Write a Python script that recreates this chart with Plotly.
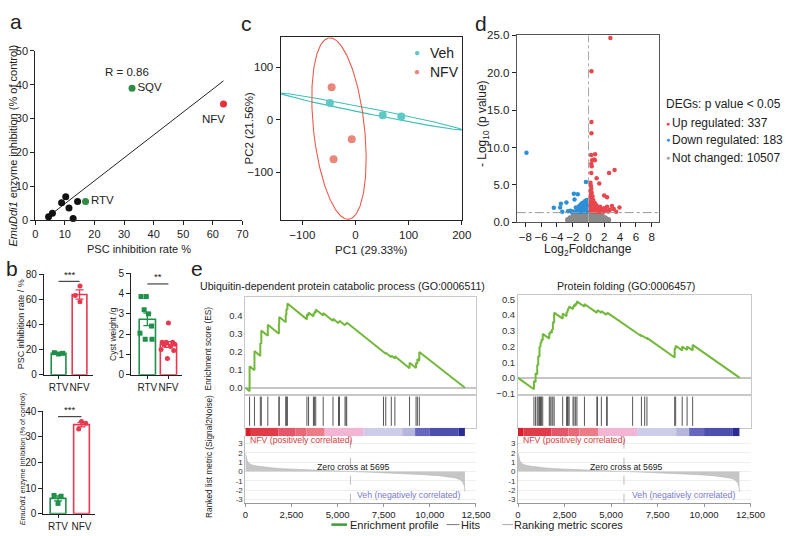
import numpy as np
import plotly.graph_objects as go

W, H = 791, 536
FONT = "Liberation Sans, Arial, Helvetica, sans-serif"
INK = "#222222"

def fx(px):
    return px / W

def fy(py):
    return 1 - py / H

# ======================= DATA =======================
# (a) PSC inhibition vs EmuDdi1 inhibition
a_black_x = [4.5, 5.8, 8.9, 10.3, 11.4, 12.8, 14.3]
a_black_y = [1.0, 2.0, 5.1, 6.9, 3.6, 0.5, 5.5]
a_green_names = ["RTV", "SQV"]
a_green_x = [17.0, 32.7]
a_green_y = [5.5, 39.0]
a_red_names = ["NFV"]
a_red_x = [63.6]
a_red_y = [34.3]

# (b) bar panels
groups = ["RTV", "NFV"]
b1_rtv = [17.6, 16.6, 17.1]
b1_rtv_dx = [-0.2, 0.0, 0.2]
b1_nfv = [70.5, 63.0, 58.0]
b1_nfv_dx = [0.02, -0.2, 0.02]
b2_rtv = [3.85, 3.85, 3.2, 3.0, 2.4, 2.05, 1.75, 1.75]
b2_rtv_dx = [-0.3, -0.05, -0.15, 0.05, 0.2, -0.35, -0.1, 0.22]
b2_nfv = [2.55, 1.6, 1.6, 1.6, 1.5, 1.45, 1.4, 1.25, 1.2, 0.8]
b2_nfv_dx = [0.0, -0.3, -0.1, 0.2, 0.3, -0.2, 0.1, -0.35, 0.25, -0.05]
b3_rtv = [7.1, 6.8, 4.0]
b3_rtv_dx = [-0.17, 0.13, 0.0]
b3_nfv = [35.9, 35.2, 33.0]
b3_nfv_dx = [0.0, 0.18, -0.12]
b_sig = ["***", "**", "***"]
b_sig_y = [74.3, 4.47, 37.8]

# (c) PCA
veh_pc1 = [-48.0, 51.3, 86.2]
veh_pc2 = [32.0, 8.7, 6.1]
nfv_pc1 = [-44.9, -7.0, -41.2]
nfv_pc2 = [61.7, -37.0, -75.0]

# (d) volcano
up_x = [2.77, 0.37, 0.37, 0.37, 0.33, 0.83, 0.45, 0.70, 0.80, 0.35, 0.40, 0.35, 1.03, 1.36, 3.30, 2.60, 1.98, 2.35,
        0.25, 0.30, 0.35, 0.25, 0.40, 0.30, 0.50, 0.25, 0.45, 0.60, 0.30, 0.55, 0.80, 0.25, 0.45, 0.70, 1.00, 0.30,
        0.60, 0.90, 1.20, 0.25, 0.50, 0.80, 1.10, 1.40, 0.30, 0.60, 0.95, 1.30, 1.70, 0.40, 0.75, 1.10, 1.50, 1.90,
        1.46, 2.00, 2.35, 2.97, 3.92, 3.50, 2.70, 2.20, 1.80, 3.20, 2.50]
up_y = [24.65, 20.2, 13.4, 11.9, 9.0, 9.1, 8.3, 8.4, 8.3, 7.8, 7.5, 6.6, 5.9, 5.2, 7.0, 6.6, 3.6, 3.35,
        5.3, 4.9, 4.5, 4.2, 4.0, 3.7, 3.5, 3.3, 3.1, 3.0, 2.8, 2.7, 2.6, 2.5, 2.4, 2.3, 2.3, 2.1,
        2.05, 2.0, 2.0, 1.85, 1.8, 1.75, 1.7, 1.75, 1.6, 1.55, 1.5, 1.5, 1.55, 1.4, 1.4, 1.38, 1.38, 1.4,
        2.1, 1.9, 2.1, 2.2, 2.0, 1.4, 1.7, 1.6, 1.8, 1.8, 1.45]
down_x = [-7.87, -1.86, -1.36, -0.33, -1.77, -2.80, -3.50, -4.40, -3.60, -3.33, -1.60, -2.30, -2.60, -2.00,
          -0.20, -0.35, -0.25, -0.50, -0.80, -0.30, -0.60, -1.00, -0.20, -0.45, -0.75, -1.20, -0.30, -0.60,
          -0.95, -1.30, -0.20, -0.45, -0.80, -1.15, -1.50, -0.30, -0.60, -0.95, -1.30, -1.75, -2.10]
down_y = [9.3, 3.83, 3.74, 5.4, 3.06, 2.65, 2.5, 1.96, 2.0, 1.4, 2.0, 1.55, 1.5, 1.45,
          3.0, 2.9, 2.7, 2.8, 2.6, 2.5, 2.45, 2.4, 2.3, 2.25, 2.2, 2.15, 2.05, 1.95,
          1.9, 1.8, 1.75, 1.7, 1.6, 1.55, 1.5, 1.45, 1.4, 1.38, 1.36, 1.4, 1.35]
nc_x = [-2.5, -2.1, -1.7, -1.3, -0.9, -0.5, -0.1, 0.3, 0.7, 1.1, 1.5, 1.9, 2.3,
        -2.6, -2.2, -1.8, -1.4, -1.0, -0.6, -0.2, 0.2, 0.6, 1.0, 1.4, 1.8, 2.2, 2.5,
        -2.3, -1.9, -1.5, -1.1, -0.7, -0.3, 0.1, 0.5, 0.9, 1.3, 1.7, 2.1,
        -1.9, -1.5, -1.1, -0.7, -0.3, 0.1, 0.5, 0.9, 1.3, 1.7,
        -1.4, -1.0, -0.6, -0.2, 0.2, 0.6, 1.0, 1.4,
        -0.9, -0.5, -0.1, 0.3, 0.7, 1.0]
nc_y = [0.05, 0.05, 0.05, 0.05, 0.05, 0.05, 0.05, 0.05, 0.05, 0.05, 0.05, 0.05, 0.05,
        0.3, 0.3, 0.3, 0.3, 0.3, 0.3, 0.3, 0.3, 0.3, 0.3, 0.3, 0.3, 0.3, 0.3,
        0.55, 0.55, 0.55, 0.55, 0.55, 0.55, 0.55, 0.55, 0.55, 0.55, 0.55, 0.55,
        0.8, 0.8, 0.8, 0.8, 0.8, 0.8, 0.8, 0.8, 0.8, 0.8,
        1.05, 1.05, 1.05, 1.05, 1.05, 1.05, 1.05, 1.05,
        1.25, 1.25, 1.25, 1.25, 1.25, 1.25]
deg_labels = ["Up regulated", "Down regulated", "Not changed"]
deg_counts = [337, 183, 10507]
p_cut = 0.05

# (e) GSEA
esL_rank = [0, 229, 229, 494, 494, 811, 811, 864, 864, 1218, 1218, 1818, 1818, 1836, 1836, 2189, 2189, 2225, 2225,
            2278, 2278, 3337, 3337, 3426, 3426, 3690, 3690, 3743, 3743, 3814, 3814, 4220, 4220, 4750, 4750, 5050,
            5050, 5103, 5103, 5403, 5403, 5456, 5456, 5492, 5492, 7486, 7486, 7610, 7610, 7910, 7910, 8104, 8104,
            8899, 8899, 9252, 9252, 9322, 9322, 9428, 9428, 11900]
esL_val = [0.0, -0.019, 0.12, 0.098, 0.205, 0.178, 0.25, 0.246, 0.32, 0.29, 0.352, 0.302, 0.36, 0.358, 0.395,
           0.366, 0.41, 0.407, 0.44, 0.436, 0.471, 0.382, 0.41, 0.403, 0.42, 0.398, 0.415, 0.41, 0.425, 0.419,
           0.437, 0.403, 0.418, 0.373, 0.385, 0.36, 0.37, 0.366, 0.374, 0.349, 0.356, 0.352, 0.36, 0.357, 0.364,
           0.196, 0.2, 0.19, 0.196, 0.171, 0.18, 0.164, 0.176, 0.109, 0.14, 0.11, 0.14, 0.134, 0.16, 0.151, 0.2,
           0.0]
hitsL = [229, 494, 811, 864, 1218, 1818, 1836, 2189, 2225, 2278, 3337, 3426, 3690, 3743, 3814, 4220, 4750, 5050,
         5103, 5403, 5456, 5492, 7486, 7610, 7910, 8104, 8899, 9252, 9322, 9428]

esR_rank = [0, 856, 856, 945, 945, 1034, 1034, 1087, 1087, 1155, 1155, 1208, 1208, 1260, 1260, 1329, 1329, 1680,
            1680, 1733, 1733, 1822, 1822, 1875, 1875, 1943, 1943, 2400, 2400, 2610, 2610, 2662, 2662, 2694, 2694,
            2747, 2747, 2957, 2957, 3009, 3009, 3098, 3098, 3167, 3167, 3571, 3571, 4238, 4238, 4270, 4270, 4480,
            4480, 4763, 4763, 4795, 4795, 6160, 6160, 6633, 6633, 6808, 6808, 6929, 6929, 8420, 8420, 8472, 8472,
            8824, 8824, 9087, 9087, 9386, 9386, 11922]
esR_val = [0.0, -0.072, -0.02, -0.027, 0.03, 0.023, 0.085, 0.08, 0.14, 0.134, 0.2, 0.196, 0.225, 0.22, 0.245,
           0.239, 0.28, 0.25, 0.285, 0.28, 0.295, 0.288, 0.31, 0.305, 0.355, 0.35, 0.415, 0.377, 0.41, 0.392, 0.42,
           0.416, 0.43, 0.427, 0.445, 0.44, 0.455, 0.437, 0.455, 0.45, 0.465, 0.458, 0.475, 0.469, 0.487, 0.453,
           0.47, 0.414, 0.425, 0.422, 0.432, 0.414, 0.425, 0.401, 0.41, 0.407, 0.415, 0.3, 0.305, 0.265, 0.27,
           0.255, 0.26, 0.25, 0.255, 0.13, 0.19, 0.186, 0.205, 0.175, 0.2, 0.178, 0.2, 0.175, 0.21, 0.0]
hitsR = [856, 945, 1034, 1087, 1155, 1208, 1260, 1329, 1680, 1733, 1822, 1875, 1943, 2400, 2610, 2662, 2694, 2747,
         2957, 3009, 3098, 3167, 3571, 4238, 4270, 4480, 4763, 4795, 6160, 6633, 6808, 6929, 8420, 8472, 8824, 9087,
         9386]

metric_rank = [0, 40, 100, 200, 400, 700, 1000, 1500, 2000, 3000, 4000, 5000, 5695, 6500, 7500, 8500, 9500,
               10500, 11000, 11400, 11650, 11800, 11870, 11900]
metric_val = [2.0, 1.55, 1.15, 0.85, 0.68, 0.56, 0.48, 0.38, 0.3, 0.2, 0.12, 0.05, 0.0, -0.06, -0.13, -0.22,
              -0.32, -0.45, -0.55, -0.7, -0.9, -1.2, -1.6, -2.2]
zero_cross = 5695
bar_edges = [0, 300, 1800, 2700, 3300, 4300, 6400, 8500, 9200, 10000, 11550, 11900]
bar_colors = ["#D6202C", "#E03C48", "#E4566A", "#E86A78", "#EC7C88", "#F2B6D4", "#CDCDEA", "#B6B6DC",
              "#6666BC", "#4E4EAC", "#2B2B92"]
gsea_titles = ["Ubiquitin-dependent protein catabolic process (GO:0006511)", "Protein folding (GO:0006457)"]

# ======================= FIGURE =======================
fig = go.Figure()
layout = {}
annotations = []
shapes = []

BASE_AX = dict(showgrid=False, zeroline=False, showline=False, ticks="", showticklabels=False,
               fixedrange=True)
STD = dict(showline=True, linecolor=INK, linewidth=1, ticks="outside", ticklen=4, tickcolor=INK,
           showticklabels=True, tickangle=0, tickfont=dict(size=11, color=INK, family=FONT))


def add_axes(n, xpx, ypx, xr, yr, xkw=None, ykw=None):
    xs = "xaxis" if n == 1 else f"xaxis{n}"
    ys = "yaxis" if n == 1 else f"yaxis{n}"
    xd = dict(BASE_AX, domain=[fx(xpx[0]), fx(xpx[1])], range=xr, anchor="y" if n == 1 else f"y{n}")
    yd = dict(BASE_AX, domain=[fy(ypx[1]), fy(ypx[0])], range=yr, anchor="x" if n == 1 else f"x{n}")
    if xkw:
        xd.update(xkw)
    if ykw:
        yd.update(ykw)
    layout[xs] = xd
    layout[ys] = yd
    return ("x" if n == 1 else f"x{n}"), ("y" if n == 1 else f"y{n}")


def ann(text, px, py, size=12, color=INK, xa="center", ya="middle", angle=0):
    annotations.append(dict(text=text, x=fx(px), y=fy(py), xref="paper", yref="paper", showarrow=False,
                            xanchor=xa, yanchor=ya, textangle=angle, borderpad=0,
                            font=dict(size=size, color=color, family=FONT)))


# ---------- panel a ----------
xa_, ya_ = add_axes(1, (33, 245), (46, 219), [0, 70], [0, 50],
                    dict(STD, tickvals=list(range(0, 71, 10))),
                    dict(STD, tickvals=list(range(0, 51, 10))))
all_x = np.array(a_black_x + a_green_x + a_red_x)
all_y = np.array(a_black_y + a_green_y + a_red_y)
slope, intercept = np.polyfit(all_x, all_y, 1)
r_val = np.corrcoef(all_x, all_y)[0, 1]
line_x = np.array([all_x.min(), all_x.max()])
fig.add_trace(go.Scatter(x=line_x, y=slope * line_x + intercept, mode="lines",
                         line=dict(color=INK, width=1), xaxis=xa_, yaxis=ya_, hoverinfo="skip"))
fig.add_trace(go.Scatter(x=a_black_x, y=a_black_y, mode="markers", marker=dict(color="#111111", size=7),
                         xaxis=xa_, yaxis=ya_, cliponaxis=False))
fig.add_trace(go.Scatter(x=a_green_x, y=a_green_y, mode="markers+text", text=a_green_names,
                         textposition="middle right", textfont=dict(size=11.5, color=INK, family=FONT),
                         marker=dict(color="#2E8B45", size=7), xaxis=xa_, yaxis=ya_, cliponaxis=False))
fig.add_trace(go.Scatter(x=a_red_x, y=a_red_y, mode="markers", marker=dict(color="#E8303A", size=7),
                         xaxis=xa_, yaxis=ya_, cliponaxis=False))
for nm, x, y in zip(a_red_names, a_red_x, a_red_y):
    annotations.append(dict(text=nm, x=x, y=y, xref=xa_, yref=ya_, showarrow=False, xshift=-10, yshift=-15,
                            font=dict(size=11.5, color=INK, family=FONT)))
ann(f"R = {r_val:.2f}", 127, 67, 11.5)
ann("<i>EmuDdi1</i> enzyme inhibition (% of control)", 10, 143, 11, angle=-90)
ann("PSC inhibition rate %", 139, 249, 11)

# ---------- panel b ----------
GREEN_B = "#1F8F4A"
RED_B = "#E8384F"


def bar_panel(n, xpx, ypx, xr, yr, ytick, rtv, rtv_dx, nfv, nfv_dx, width, sig, sig_y, ytitle, ytx, yty, ysize):
    xs, ys = add_axes(n, xpx, ypx, xr, yr,
                      dict(STD, tickvals=[0, 1], ticktext=groups, ticklen=3,
                           tickfont=dict(size=10, color=INK, family=FONT)),
                      dict(STD, tickvals=ytick, tickfont=dict(size=10, color=INK, family=FONT)))
    for i, (vals, dx, col, sym) in enumerate([(rtv, rtv_dx, GREEN_B, "square"), (nfv, nfv_dx, RED_B, "circle")]):
        v = np.array(vals)
        mean = v.mean()
        sem = v.std(ddof=1) / np.sqrt(len(v))
        fig.add_trace(go.Bar(x=[i], y=[mean], width=width, marker=dict(color="white", line=dict(color=col, width=1.6)),
                             error_y=dict(type="data", array=[sem], color=col, thickness=1.3, width=4),
                             xaxis=xs, yaxis=ys))
        fig.add_trace(go.Scatter(x=[i + d for d in dx], y=vals, mode="markers",
                                 marker=dict(color=col, size=5, symbol=sym), xaxis=xs, yaxis=ys, cliponaxis=False))
    fig.add_trace(go.Scatter(x=[0, 1], y=[sig_y, sig_y], mode="lines", line=dict(color=INK, width=1),
                             xaxis=xs, yaxis=ys, cliponaxis=False))
    annotations.append(dict(text=sig, x=0.5, y=sig_y, xref=xs, yref=ys, showarrow=False, yshift=7,
                            font=dict(size=9.5, color=INK, family=FONT)))
    ann(ytitle, ytx, yty, ysize, angle=-90)


bar_panel(2, (41.7, 91.7), (274.3, 377.3), [-0.707, 1.623], [0, 80], [0, 20, 40, 60, 80],
          b1_rtv, b1_rtv_dx, b1_nfv, b1_nfv_dx, 0.7, b_sig[0], b_sig_y[0], "PSC inhibition rate / %", 18, 326, 9)
bar_panel(3, (131, 182.7), (273.3, 377.3), [-0.773, 1.62], [0, 5], [0, 1, 2, 3, 4, 5],
          b2_rtv, b2_rtv_dx, b2_nfv, b2_nfv_dx, 0.77, b_sig[1], b_sig_y[1], "Cyst weight /g", 112, 335, 8.5)
bar_panel(4, (41.3, 94), (414.3, 519.3), [-0.625, 1.57], [0, 40], [0, 10, 20, 30, 40],
          b3_rtv, b3_rtv_dx, b3_nfv, b3_nfv_dx, 0.67, b_sig[2], b_sig_y[2],
          "<i>EmuDdi1</i> enzyme Inhibition (% of control)", 20, 464, 7.2)

# ---------- panel c ----------
TEAL = "#5DC9C4"
SALMON = "#E8877A"


def conf_ellipse(x, y, level=0.95, n=300):
    pts = np.vstack([x, y])
    mean = pts.mean(axis=1)
    cov = np.cov(pts)
    vals, vecs = np.linalg.eigh(cov)
    r = np.sqrt(-2 * np.log(1 - level))
    t = np.linspace(0, 2 * np.pi, n)
    circ = np.vstack([np.cos(t), np.sin(t)])
    ell = vecs @ (np.sqrt(np.maximum(vals, 0))[:, None] * r * circ) + mean[:, None]
    return ell[0], ell[1]


C_AX = dict(STD, mirror=True, tickfont=dict(size=11.5, color=INK, family=FONT))
xc, yc = add_axes(5, (284, 470), (32, 219), [-141, 201], [-191, 157],
                  dict(C_AX, tickvals=[-100, 0, 100, 200]), dict(C_AX, tickvals=[-100, 0, 100]))
ex, ey = conf_ellipse(veh_pc1, veh_pc2)
fig.add_trace(go.Scatter(x=ex, y=ey, mode="lines", line=dict(color="#3FBFBA", width=1.1), xaxis=xc, yaxis=yc))
ex, ey = conf_ellipse(nfv_pc1, nfv_pc2)
fig.add_trace(go.Scatter(x=ex, y=ey, mode="lines", line=dict(color="#EC5A4C", width=1.1), xaxis=xc, yaxis=yc))
fig.add_trace(go.Scatter(x=veh_pc1, y=veh_pc2, mode="markers", marker=dict(color=TEAL, size=8), xaxis=xc, yaxis=yc))
fig.add_trace(go.Scatter(x=nfv_pc1, y=nfv_pc2, mode="markers", marker=dict(color=SALMON, size=8), xaxis=xc, yaxis=yc))
ann("●", 424, 48, 10, TEAL)
ann("Veh", 436, 48, 14, xa="left")
ann("●", 424, 67, 10, SALMON)
ann("NFV", 436, 67, 14, xa="left")
ann("PC2 (21.56%)", 252, 125, 11.5, angle=-90)
ann("PC1 (29.33%)", 377, 250, 11.5)

# ---------- panel d ----------
D_AX = dict(STD, mirror=True, linecolor="#555555", tickfont=dict(size=11.5, color=INK, family=FONT))
xd_, yd_ = add_axes(6, (525.7, 671), (30, 221.3), [-9.1, 8.9], [0, 25],
                    dict(D_AX, tickvals=[-8, -6, -4, -2, 0, 2, 4, 6, 8]),
                    dict(D_AX, tickvals=[0, 5, 10, 15, 20, 25], tickformat=".1f"))
fig.add_trace(go.Scatter(x=nc_x, y=nc_y, mode="markers", marker=dict(color="#8A8A8A", size=6),
                         xaxis=xd_, yaxis=yd_, cliponaxis=True))
fig.add_trace(go.Scatter(x=down_x, y=down_y, mode="markers", marker=dict(color="#2E8FD6", size=4.5),
                         xaxis=xd_, yaxis=yd_))
fig.add_trace(go.Scatter(x=up_x, y=up_y, mode="markers", marker=dict(color="#E8474C", size=4.5),
                         xaxis=xd_, yaxis=yd_))
p_line = -np.log10(p_cut)
shapes.append(dict(type="line", xref=xd_, yref=yd_, x0=-9.1, x1=8.9, y0=p_line, y1=p_line,
                   line=dict(color="#999999", width=1, dash="dashdot")))
shapes.append(dict(type="line", xref=xd_, yref=yd_, x0=0, x1=0, y0=0, y1=25,
                   line=dict(color="#AAAAAA", width=1, dash="dashdot")))
ann("- Log<sub>10</sub> (p value)", 492, 120, 12, angle=-90)
ann("Log<sub>2</sub>Foldchange", 599, 250, 12)
ann(f"DEGs: p value < {p_cut}", 677, 100, 12, xa="left")
for lab, cnt, col, py in zip(deg_labels, deg_counts, ["#E8474C", "#2E8FD6", "#A0A0A0"], [120, 137, 155]):
    ann("●", 680, py, 7, col)
    ann(f"{lab}: {cnt}", 684, py, 12, xa="left")

# ---------- panel e ----------
GRID = "#C8C8C8"
ESMALL = 8.7


def gsea_panel(n0, xpx, es_top, es_range, es_ticks, es_rank, es_val, hits, title, title_px, show_titles):
    es_bot, hit_bot, cb_bot, met_bot = 397.5, 431.5, 440, 508
    ES_Y = dict(showline=True, mirror=True, linecolor=GRID, showticklabels=True, tickvals=es_ticks,
                tickformat=".1f", tickfont=dict(size=9.5, color="#333333", family=FONT),
                zeroline=True, zerolinecolor="#C4C4C4", zerolinewidth=2)
    BOX_X = dict(showline=True, mirror=True, linecolor=GRID)
    xe, ye = add_axes(n0, xpx, (es_top, es_bot), [0, 12500], es_range, BOX_X, ES_Y)
    xh, yh = add_axes(n0 + 1, xpx, (es_bot, hit_bot), [0, 12500], [0, 1], BOX_X,
                      dict(showline=True, mirror=True, linecolor=GRID))
    xb, yb = add_axes(n0 + 2, xpx, (hit_bot, cb_bot), [0, 12500], [0, 1])
    xm, ym = add_axes(n0 + 3, xpx, (cb_bot, met_bot), [0, 12500], [-3.35, 3.8],
                      dict(showline=True, linecolor="#999999", ticks="outside", ticklen=3, tickcolor="#999999",
                           showticklabels=True, tickangle=0, tickvals=[0, 2500, 5000, 7500, 10000, 12500],
                           tickformat=",", tickfont=dict(size=9.5, color=INK, family=FONT)),
                      dict(showline=True, linecolor="#BBBBBB", showticklabels=True,
                           tickvals=[3, 2, 1, 0, -1, -2, -3], ticktext=["3", "2", "1", "0", "-1", "-2", "-3"],
                           tickfont=dict(size=8, color="#333333", family=FONT),
                           showgrid=True, gridcolor="#EFEFEF", gridwidth=1))
    # colour bar
    e = np.array(bar_edges, dtype=float)
    fig.add_trace(go.Bar(x=(e[:-1] + e[1:]) / 2, y=[1] * len(bar_colors), width=np.diff(e),
                         marker=dict(color=bar_colors, line=dict(width=0)), xaxis=xb, yaxis=yb))
    # hits
    hx, hy = [], []
    for h in hits:
        hx += [h, h, None]
        hy += [0.06, 0.94, None]
    fig.add_trace(go.Scatter(x=hx, y=hy, mode="lines", line=dict(color="#555555", width=1), xaxis=xh, yaxis=yh))
    # ranked metric
    fig.add_trace(go.Scatter(x=metric_rank, y=metric_val, mode="lines", fill="tozeroy", fillcolor="#C6C6C6",
                             line=dict(color="#B5B5B5", width=0.6), xaxis=xm, yaxis=ym))
    fig.add_trace(go.Scatter(x=[zero_cross, zero_cross], y=[-3.35, 3.8], mode="lines",
                             line=dict(color="#BBBBBB", width=1, dash="dash"), xaxis=xm, yaxis=ym))
    # ES curve
    fig.add_trace(go.Scatter(x=es_rank, y=es_val, mode="lines", line=dict(color="#72B83A", width=2),
                             xaxis=xe, yaxis=ye))
    annotations.append(dict(text="NFV (positively correlated)", x=150, y=3.38, xref=xm, yref=ym, showarrow=False,
                            xanchor="left", font=dict(size=ESMALL, color="#D43B3B", family=FONT)))
    annotations.append(dict(text=f"Zero cross at {zero_cross}", x=zero_cross, y=0.45, xref=xm, yref=ym,
                            showarrow=False, xshift=3, font=dict(size=ESMALL, color=INK, family=FONT)))
    annotations.append(dict(text="Veh (negatively correlated)", x=11750, y=-2.48, xref=xm, yref=ym,
                            showarrow=False, xanchor="right", font=dict(size=ESMALL, color="#7878CC", family=FONT)))
    ann(title, title_px, 286, 10.6)
    if show_titles:
        ann("Enrichment score (ES)", 210, 350, 8.3, angle=-90)
        ann("Ranked list metric (Signal2Noise)", 210, 461, 8.3, angle=-90)


gsea_panel(7, (248, 484), 298, [-0.038, 0.505], [0.0, 0.1, 0.2, 0.3, 0.4], esL_rank, esL_val, hitsL,
           gsea_titles[0], 347, True)
gsea_panel(11, (527, 765), 296, [-0.106, 0.525], [-0.1, 0.0, 0.1, 0.2, 0.3, 0.4, 0.5], esR_rank, esR_val,
           hitsR, gsea_titles[1], 637, False)

# bottom legend
LEG_Y = 530.5
shapes.append(dict(type="line", xref="paper", yref="paper", x0=fx(336), x1=fx(352), y0=fy(LEG_Y), y1=fy(LEG_Y),
                   line=dict(color="#3A9D3A", width=2.5)))
ann("Enrichment profile", 354, LEG_Y, 11, xa="left")
shapes.append(dict(type="line", xref="paper", yref="paper", x0=fx(454), x1=fx(467), y0=fy(LEG_Y), y1=fy(LEG_Y),
                   line=dict(color="#777777", width=1)))
ann("Hits", 468, LEG_Y, 11, xa="left")
shapes.append(dict(type="line", xref="paper", yref="paper", x0=fx(511), x1=fx(522), y0=fy(LEG_Y), y1=fy(LEG_Y),
                   line=dict(color="#AAAAAA", width=1)))
ann("Ranking metric scores", 522, LEG_Y, 11, xa="left")

# panel letters
for letter, px, py in [("a", 13, 16), ("b", 9, 268), ("c", 249, 18), ("d", 489, 18), ("e", 199, 268)]:
    ann(letter, px, py, 21)

layout.update(dict(width=W, height=H, margin=dict(l=0, r=0, t=0, b=0), paper_bgcolor="white",
                   plot_bgcolor="white", showlegend=False, barmode="overlay",
                   font=dict(family=FONT, color=INK), annotations=annotations, shapes=shapes,
                   hovermode=False))
fig.update_layout(**layout)
fig.write_html("out.html", config=dict(displayModeBar=False, responsive=False),
               post_script="document.documentElement.style.margin='0';document.body.style.margin='0';"
                           "document.body.style.padding='0';document.body.style.overflow='hidden';")
